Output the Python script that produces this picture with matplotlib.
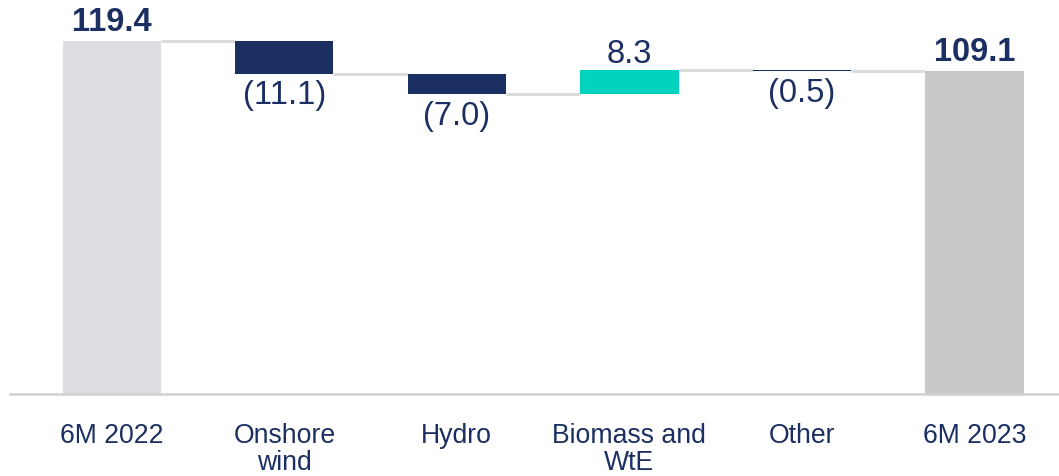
import matplotlib
matplotlib.use("Agg")
from matplotlib import pyplot as plt

# data
categories = ["6M 2022", "Onshore\nwind", "Hydro", "Biomass and\nWtE", "Other", "6M 2023"]
start_total = 119.4
changes = [-11.1, -7.0, 8.3, -0.5]
end_total = 109.1

NAVY = "#1b2f62"
TEAL = "#00d4be"
plt.rcParams['font.family'] = ['Liberation Sans', 'DejaVu Sans']

fig = plt.figure(figsize=(10.59, 4.77), dpi=100)
ax = fig.add_axes([10 / 1059, 82 / 477, 1 - 10 / 1059, 395 / 477])

width = 0.57
x = list(range(len(categories)))
FS = 23.5

# start total
ax.bar(0, start_total, width=width, color="#dcdde0")
ax.annotate(f"{start_total:.1f}", (0, start_total), xytext=(0, 3), textcoords="offset points",
            ha="center", va="bottom", fontsize=FS, fontweight="bold", color=NAVY)

level = start_total
levels = [start_total]
for i, d in enumerate(changes, start=1):
    new = level + d
    col = TEAL if d > 0 else NAVY
    ax.bar(i, d, bottom=level, width=width, color=col)
    if d > 0:
        ax.annotate(f"{d:.1f}", (i, new), xytext=(0, 1), textcoords="offset points",
                    ha="center", va="bottom", fontsize=FS, color=NAVY)
    else:
        ax.annotate(f"({abs(d):.1f})", (i, new), xytext=(0, -4), textcoords="offset points",
                    ha="center", va="top", fontsize=FS, color=NAVY)
    level = new
    levels.append(level)

# end total
n = len(categories) - 1
ax.bar(n, end_total, width=width, color="#c9c9c9")
ax.annotate(f"{end_total:.1f}", (n, end_total), xytext=(0, 3), textcoords="offset points",
            ha="center", va="bottom", fontsize=FS, fontweight="bold", color=NAVY)
levels.append(end_total)

# connectors
for i in range(n):
    ax.plot([i + width / 2, i + 1 - width / 2], [levels[i], levels[i]],
            color="#dcdcdc", lw=2.2, solid_capstyle="butt", zorder=0)

ax.set_xlim(-0.59, 5.49)
ax.set_ylim(0, 133.6)
ax.set_yticks([])
ax.set_xticks(x)
ax.set_xticklabels(categories, fontsize=19.2, color=NAVY, linespacing=1.05, va="top")
ax.tick_params(axis="x", length=0, pad=20)
for s in ["top", "right", "left"]:
    ax.spines[s].set_visible(False)
ax.spines["bottom"].set_color("#d0d0d0")
ax.spines["bottom"].set_linewidth(1.8)

fig.savefig("out.png", dpi=100)
